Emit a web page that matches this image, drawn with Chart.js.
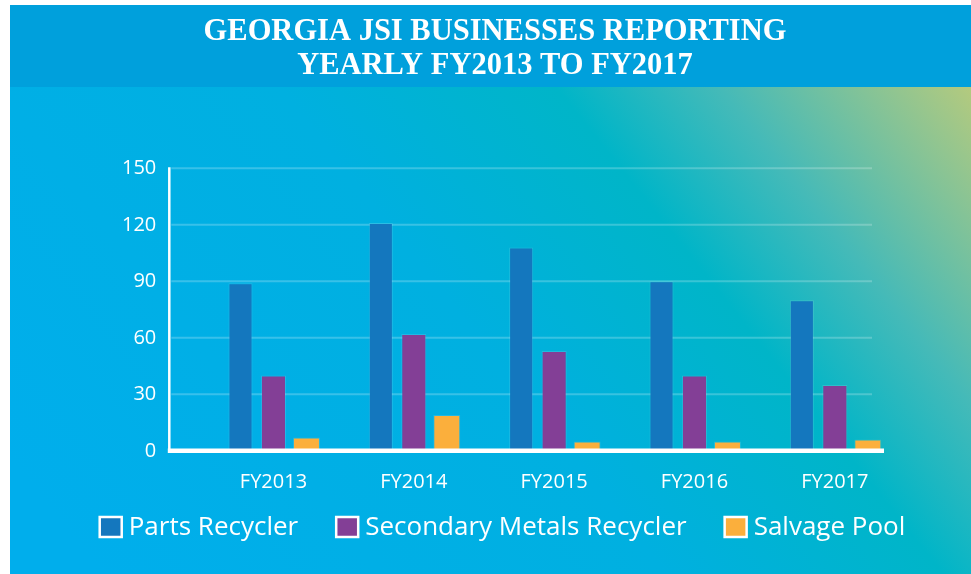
<!DOCTYPE html>
<html>
<head>
<meta charset="utf-8">
<script src="https://cdn.jsdelivr.net/npm/chart.js@4.4.1/dist/chart.umd.min.js"></script>
<style>
  html, body { margin: 0; padding: 0; background: #fff; }
  #wrap { width: 971px; height: 574px; }
</style>
</head>
<body>
<div id="wrap"><canvas id="myChart"></canvas></div>
<script>
const years = ["FY2013", "FY2014", "FY2015", "FY2016", "FY2017"];
const partsRecycler = [89, 121, 108, 90, 80];
const secondaryMetals = [40, 62, 53, 40, 35];
const salvagePool = [7, 19, 5, 5, 6];
const titleLines = ["GEORGIA JSI BUSINESSES REPORTING", "YEARLY FY2013 TO FY2017"];
const yMin = 0, yMax = 150, yStep = 30;

Chart.defaults.font.family = "'Open Sans', 'Noto Sans', sans-serif";
Chart.defaults.color = "#fff";

// band + gradient background
const backdrop = {
  id: "backdrop",
  beforeDraw(chart) {
    const { ctx, width, height } = chart;
    ctx.save();
    ctx.fillStyle = "#fff";
    ctx.fillRect(0, 0, width, height);
    const g = ctx.createLinearGradient(200, 700, 971, 87);
    g.addColorStop(0, "#00aeec");
    g.addColorStop(0.45, "#00b0e0");
    g.addColorStop(0.67, "#00b5c8");
    g.addColorStop(0.8, "#45bab8");
    g.addColorStop(1, "#b4ca7e");
    ctx.fillStyle = g;
    ctx.fillRect(10, 87, width - 10, height - 87);
    ctx.fillStyle = "#00a0dc";
    ctx.fillRect(10, 5, width - 10, 82);
    ctx.restore();
  },
};

// faint gridlines behind the bars, white axis lines on top
const axisLines = {
  id: "axisLines",
  beforeDatasetsDraw(chart) {
    const { ctx, chartArea: a, scales: { y } } = chart;
    ctx.save();
    ctx.strokeStyle = "rgba(255,255,255,0.22)";
    ctx.lineWidth = 2;
    y.ticks.forEach((t) => {
      if (t.value === 0) return;
      const py = y.getPixelForValue(t.value);
      ctx.beginPath();
      ctx.moveTo(a.left - 32, py);
      ctx.lineTo(a.right - 33, py);
      ctx.stroke();
    });
    ctx.restore();
  },
  afterDatasetsDraw(chart) {
    const { ctx, chartArea: a, scales: { y } } = chart;
    const y0 = y.getPixelForValue(yMin);
    ctx.save();
    ctx.strokeStyle = "#fff";
    ctx.lineWidth = 2.5;
    ctx.beginPath();
    ctx.moveTo(a.left - 34, y.getPixelForValue(yMax) - 1);
    ctx.lineTo(a.left - 34, y0);
    ctx.stroke();
    ctx.lineWidth = 4.5;
    ctx.beginPath();
    ctx.moveTo(a.left - 35.5, y0);
    ctx.lineTo(a.right - 21, y0);
    ctx.stroke();
    ctx.restore();
  },
};

// legend row: boxes with white frame, drawn from the datasets
const legendRow = {
  id: "legendRow",
  afterDraw(chart) {
    const { ctx } = chart;
    ctx.save();
    ctx.font = "26px 'Open Sans'";
    ctx.textBaseline = "middle";
    const boxW = 22, boxH = 20, gap = 7, spacing = 38;
    const items = chart.data.datasets.map((ds) => ({
      text: ds.label,
      color: ds.backgroundColor,
      w: ctx.measureText(ds.label).width,
    }));
    const total = items.reduce((s, it) => s + boxW + gap + it.w, 0) + spacing * (items.length - 1);
    let x = 502.5 - total / 2;
    const cy = 527;
    items.forEach((it) => {
      ctx.fillStyle = it.color;
      ctx.fillRect(x, cy - boxH / 2, boxW, boxH);
      ctx.strokeStyle = "#fff";
      ctx.lineWidth = 2.5;
      ctx.strokeRect(x, cy - boxH / 2, boxW, boxH);
      ctx.fillStyle = "#fff";
      ctx.fillText(it.text, x + boxW + gap, cy + 1);
      x += boxW + gap + it.w + spacing;
    });
    ctx.restore();
  },
};

const ctx = document.getElementById("myChart").getContext("2d");
const myChart = new Chart(ctx, {
  type: "bar",
  data: {
    labels: years,
    datasets: [
      {
        label: "Parts Recycler",
        data: partsRecycler,
        backgroundColor: "#1477be",
        borderColor: "rgba(255,255,255,0.12)",
        borderWidth: 1,
        barPercentage: 0.73,
      },
      {
        label: "Secondary Metals Recycler",
        data: secondaryMetals,
        backgroundColor: "#833f96",
        borderColor: "rgba(255,255,255,0.12)",
        borderWidth: 1,
        barPercentage: 0.76,
      },
      {
        label: "Salvage Pool",
        data: salvagePool,
        backgroundColor: "#fbaf3c",
        borderColor: "rgba(255,255,255,0.12)",
        borderWidth: 1,
        barPercentage: 0.82,
      },
    ],
  },
  options: {
    responsive: true,
    maintainAspectRatio: false,
    animation: false,
    categoryPercentage: 0.705,
    layout: { padding: { left: 85, right: 66, top: 0, bottom: 60 } },
    plugins: {
      tooltip: { enabled: false },
      legend: { display: false },
      title: {
        display: true,
        text: titleLines,
        color: "#fff",
        font: { family: "'Liberation Serif', 'DejaVu Serif', serif", size: 30.5, weight: "bold", lineHeight: 1.1 },
        padding: { top: 15.5, bottom: 85.7 },
      },
    },
    scales: {
      x: {
        grid: { display: false, drawTicks: false },
        border: { display: false },
        ticks: { color: "#fff", font: { size: 20 }, padding: 19 },
        afterFit(scale) {
          scale.height = 63.2;
        },
      },
      y: {
        min: yMin,
        max: yMax,
        grid: { display: false, drawTicks: false },
        border: { display: false },
        ticks: { stepSize: yStep, color: "#fff", font: { size: 20 }, padding: 47 },
        afterFit(scale) {
          scale.width = 118.3;
        },
      },
    },
  },
  plugins: [backdrop, axisLines, legendRow],
});
</script>
</body>
</html>
